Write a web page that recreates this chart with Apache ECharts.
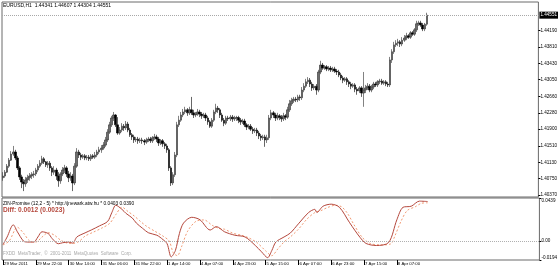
<!DOCTYPE html>
<html><head><meta charset="utf-8">
<script src="https://cdn.jsdelivr.net/npm/echarts@6/dist/echarts.min.js"></script>
<style>html,body{margin:0;padding:0;background:#fff}#c{width:560px;height:270px}</style>
</head><body><div id="c"></div>
<script>
const symbolName = 'EURUSD,H1';
const xTickLabels = ['29 Mar 2011','29 Mar 22:00','30 Mar 14:00','31 Mar 06:00','31 Mar 22:00','1 Apr 14:00','4 Apr 07:00','4 Apr 23:00','5 Apr 15:00','6 Apr 07:00','6 Apr 23:00','7 Apr 15:00','8 Apr 07:00'];
const priceTickLabels = ['1.40370','1.40750','1.41130','1.41510','1.41900','1.42280','1.42660','1.43050','1.43430','1.43810','1.44190'];
const zinTickLabels = ['-0.0194','0.00','0.0439'];
const zinName = 'ZIN-Promise (12,2 - 5) * http://jnewark.atw.hu *';
const diffText = 'Diff: 0.0012 (0.0023)';
const copyrightText = 'FXDD  MetaTrader,  \u00a9  2001-2011  MetaQuotes  Software  Corp.';

// [open, high, low, close] per H1 bar
const ohlc = [
[1.4077,1.4090,1.4070,1.4081],[1.4081,1.4095,1.4077,1.4090],[1.4090,1.4109,1.4088,1.4104],[1.4104,1.4123,1.4100,1.4118],
[1.4118,1.4139,1.4116,1.4132],[1.4132,1.4151,1.4128,1.4137],[1.4137,1.4142,1.4118,1.4123],[1.4123,1.4128,1.4095,1.4100],
[1.4100,1.4104,1.4072,1.4079],[1.4079,1.4084,1.4053,1.4067],[1.4067,1.4074,1.4046,1.4063],[1.4063,1.4079,1.4056,1.4072],
[1.4072,1.4084,1.4065,1.4077],[1.4077,1.4088,1.4070,1.4081],[1.4081,1.4090,1.4074,1.4084],[1.4084,1.4093,1.4077,1.4086],
[1.4086,1.4100,1.4081,1.4095],[1.4095,1.4109,1.4090,1.4104],[1.4104,1.4118,1.4100,1.4111],[1.4111,1.4128,1.4107,1.4121],
[1.4121,1.4125,1.4109,1.4114],[1.4114,1.4116,1.4102,1.4107],[1.4107,1.4116,1.4100,1.4111],[1.4111,1.4116,1.4093,1.4100],
[1.4100,1.4104,1.4081,1.4090],[1.4090,1.4104,1.4084,1.4095],[1.4095,1.4100,1.4072,1.4081],[1.4081,1.4090,1.4056,1.4070],
[1.4070,1.4090,1.4063,1.4086],[1.4086,1.4102,1.4081,1.4095],[1.4095,1.4107,1.4088,1.4100],[1.4100,1.4104,1.4079,1.4086],
[1.4086,1.4093,1.4067,1.4077],[1.4077,1.4090,1.4070,1.4081],[1.4081,1.4086,1.4046,1.4065],[1.4065,1.4111,1.4060,1.4104],
[1.4104,1.4146,1.4100,1.4137],[1.4137,1.4142,1.4123,1.4130],[1.4130,1.4135,1.4118,1.4125],[1.4125,1.4132,1.4121,1.4128],
[1.4128,1.4132,1.4118,1.4123],[1.4123,1.4130,1.4118,1.4125],[1.4125,1.4130,1.4116,1.4121],[1.4121,1.4132,1.4116,1.4128],
[1.4128,1.4132,1.4121,1.4125],[1.4125,1.4137,1.4121,1.4130],[1.4130,1.4142,1.4125,1.4137],[1.4137,1.4149,1.4132,1.4142],
[1.4142,1.4153,1.4135,1.4146],[1.4146,1.4160,1.4142,1.4153],[1.4153,1.4172,1.4149,1.4165],[1.4165,1.4190,1.4160,1.4183],
[1.4183,1.4207,1.4179,1.4200],[1.4200,1.4221,1.4195,1.4216],[1.4216,1.4230,1.4209,1.4223],[1.4223,1.4225,1.4195,1.4200],
[1.4200,1.4218,1.4177,1.4181],[1.4181,1.4195,1.4177,1.4188],[1.4188,1.4204,1.4183,1.4197],[1.4197,1.4202,1.4186,1.4193],
[1.4193,1.4209,1.4188,1.4202],[1.4202,1.4207,1.4183,1.4188],[1.4188,1.4193,1.4172,1.4177],[1.4177,1.4181,1.4165,1.4172],
[1.4172,1.4177,1.4158,1.4165],[1.4165,1.4172,1.4160,1.4167],[1.4167,1.4172,1.4156,1.4163],[1.4163,1.4170,1.4158,1.4165],
[1.4165,1.4170,1.4156,1.4163],[1.4163,1.4167,1.4153,1.4160],[1.4160,1.4170,1.4156,1.4165],[1.4165,1.4172,1.4160,1.4167],
[1.4167,1.4172,1.4158,1.4163],[1.4163,1.4174,1.4158,1.4170],[1.4170,1.4179,1.4165,1.4172],[1.4172,1.4177,1.4160,1.4167],
[1.4167,1.4172,1.4151,1.4158],[1.4158,1.4167,1.4153,1.4163],[1.4163,1.4167,1.4149,1.4156],[1.4156,1.4160,1.4144,1.4151],
[1.4151,1.4156,1.4135,1.4142],[1.4142,1.4146,1.4093,1.4100],[1.4100,1.4104,1.4058,1.4065],[1.4065,1.4090,1.4060,1.4084],
[1.4084,1.4137,1.4079,1.4130],[1.4130,1.4207,1.4125,1.4200],[1.4200,1.4221,1.4195,1.4211],[1.4211,1.4230,1.4207,1.4223],
[1.4223,1.4237,1.4218,1.4230],[1.4230,1.4242,1.4225,1.4235],[1.4235,1.4239,1.4221,1.4228],[1.4228,1.4242,1.4223,1.4235],
[1.4235,1.4265,1.4223,1.4228],[1.4228,1.4235,1.4216,1.4223],[1.4223,1.4230,1.4218,1.4225],[1.4225,1.4237,1.4221,1.4230],
[1.4230,1.4235,1.4218,1.4225],[1.4225,1.4230,1.4214,1.4221],[1.4221,1.4228,1.4216,1.4223],[1.4223,1.4228,1.4209,1.4216],
[1.4216,1.4221,1.4200,1.4207],[1.4207,1.4211,1.4193,1.4197],[1.4197,1.4216,1.4193,1.4211],[1.4211,1.4235,1.4207,1.4230],
[1.4230,1.4249,1.4225,1.4239],[1.4239,1.4244,1.4228,1.4235],[1.4235,1.4239,1.4216,1.4223],[1.4223,1.4228,1.4207,1.4211],
[1.4211,1.4216,1.4197,1.4204],[1.4204,1.4221,1.4200,1.4216],[1.4216,1.4221,1.4209,1.4214],[1.4214,1.4223,1.4209,1.4218],
[1.4218,1.4223,1.4207,1.4214],[1.4214,1.4221,1.4209,1.4216],[1.4216,1.4221,1.4209,1.4217],[1.4217,1.4221,1.4204,1.4211],
[1.4211,1.4216,1.4200,1.4207],[1.4207,1.4214,1.4202,1.4209],[1.4209,1.4214,1.4195,1.4200],[1.4200,1.4204,1.4188,1.4195],
[1.4195,1.4202,1.4190,1.4197],[1.4197,1.4202,1.4186,1.4190],[1.4190,1.4195,1.4179,1.4186],[1.4186,1.4193,1.4181,1.4188],
[1.4188,1.4193,1.4174,1.4181],[1.4181,1.4186,1.4167,1.4174],[1.4174,1.4179,1.4163,1.4170],[1.4170,1.4177,1.4165,1.4172],
[1.4172,1.4177,1.4149,1.4165],[1.4165,1.4177,1.4158,1.4170],[1.4170,1.4223,1.4165,1.4216],[1.4216,1.4235,1.4211,1.4228],
[1.4228,1.4232,1.4216,1.4223],[1.4223,1.4228,1.4209,1.4216],[1.4216,1.4228,1.4211,1.4221],[1.4221,1.4225,1.4211,1.4218],
[1.4218,1.4223,1.4207,1.4214],[1.4214,1.4228,1.4209,1.4221],[1.4221,1.4225,1.4211,1.4218],[1.4218,1.4242,1.4214,1.4235],
[1.4235,1.4258,1.4230,1.4249],[1.4249,1.4263,1.4244,1.4256],[1.4256,1.4265,1.4251,1.4260],[1.4260,1.4265,1.4253,1.4258],
[1.4258,1.4270,1.4253,1.4265],[1.4265,1.4270,1.4256,1.4263],[1.4263,1.4288,1.4258,1.4281],[1.4281,1.4297,1.4276,1.4290],
[1.4290,1.4307,1.4286,1.4300],[1.4300,1.4311,1.4295,1.4304],[1.4304,1.4309,1.4288,1.4295],[1.4295,1.4300,1.4279,1.4286],
[1.4286,1.4295,1.4281,1.4290],[1.4290,1.4295,1.4270,1.4281],[1.4281,1.4328,1.4276,1.4323],[1.4323,1.4349,1.4318,1.4339],
[1.4339,1.4344,1.4328,1.4332],[1.4332,1.4339,1.4328,1.4335],[1.4335,1.4339,1.4325,1.4330],[1.4330,1.4337,1.4325,1.4332],
[1.4332,1.4337,1.4323,1.4328],[1.4328,1.4335,1.4323,1.4330],[1.4330,1.4335,1.4321,1.4325],[1.4325,1.4330,1.4316,1.4323],
[1.4323,1.4328,1.4311,1.4316],[1.4316,1.4321,1.4304,1.4309],[1.4309,1.4314,1.4297,1.4304],[1.4304,1.4311,1.4300,1.4307],
[1.4307,1.4311,1.4293,1.4300],[1.4300,1.4304,1.4288,1.4295],[1.4295,1.4300,1.4283,1.4290],[1.4290,1.4297,1.4286,1.4293],
[1.4293,1.4297,1.4276,1.4283],[1.4283,1.4288,1.4270,1.4279],[1.4279,1.4290,1.4274,1.4286],[1.4286,1.4290,1.4265,1.4274],
[1.4274,1.4323,1.4242,1.4281],[1.4281,1.4293,1.4274,1.4286],[1.4286,1.4297,1.4281,1.4290],[1.4290,1.4295,1.4276,1.4281],
[1.4281,1.4293,1.4276,1.4288],[1.4288,1.4300,1.4283,1.4295],[1.4295,1.4300,1.4288,1.4293],[1.4293,1.4304,1.4288,1.4300],
[1.4300,1.4307,1.4295,1.4302],[1.4302,1.4307,1.4293,1.4297],[1.4297,1.4304,1.4293,1.4300],[1.4300,1.4304,1.4290,1.4295],
[1.4295,1.4300,1.4288,1.4293],[1.4293,1.4358,1.4288,1.4351],[1.4351,1.4376,1.4344,1.4370],[1.4370,1.4393,1.4365,1.4386],
[1.4386,1.4397,1.4381,1.4390],[1.4390,1.4400,1.4383,1.4393],[1.4393,1.4397,1.4381,1.4388],[1.4388,1.4404,1.4383,1.4397],
[1.4397,1.4409,1.4393,1.4402],[1.4402,1.4414,1.4397,1.4407],[1.4407,1.4411,1.4400,1.4404],[1.4404,1.4418,1.4400,1.4414],
[1.4414,1.4418,1.4407,1.4411],[1.4411,1.4425,1.4407,1.4421],[1.4421,1.4442,1.4416,1.4435],[1.4435,1.4442,1.4430,1.4437],
[1.4437,1.4442,1.4428,1.4432],[1.4432,1.4437,1.4418,1.4423],[1.4423,1.4437,1.4418,1.4434],[1.44341,1.44607,1.44304,1.44551]
];

// indicator: [bar index, value]
const zinMain = [[0,-0.0036],[2,0.0041],[5,0.0165],[7,0.0094],[10,-0.0001],[12,-0.0011],[15,-0.0011],[17,0.0041],[19,0.0094],[22,0.0077],[24,0.0024],[27,-0.0028],[29,-0.0018],[32,-0.0011],[34,-0.0022],[36,0.0041],[40,0.0083],[43,0.0112],[47,0.0154],[51,0.0200],[53,0.0288],[55,0.0365],[58,0.0323],[60,0.0281],[63,0.0235],[65,0.0183],[68,0.0130],[71,0.0083],[75,0.0059],[78,0.0014],[80,-0.0028],[82,-0.0162],[84,-0.0099],[86,0.0077],[88,0.0183],[92,0.0242],[96,0.0217],[101,0.0112],[104,0.0147],[108,0.0094],[113,0.0059],[118,0.0041],[123,-0.0046],[126,-0.0110],[129,-0.0170],[131,-0.0099],[133,-0.0011],[137,0.0041],[140,0.0080],[144,0.0175],[149,0.0291],[152,0.0323],[153,0.0291],[156,0.0355],[160,0.0376],[164,0.0344],[169,0.0186],[174,0.0038],[177,-0.0025],[182,-0.0046],[188,-0.0015],[192,0.0217],[195,0.0344],[199,0.0355],[203,0.0407],[207,0.0403]];
const zinSignal = [[0,-0.0040],[3,0.0000],[7,0.0140],[10,0.0080],[13,0.0000],[16,-0.0010],[19,0.0040],[22,0.0085],[25,0.0060],[28,0.0010],[31,-0.0020],[34,-0.0025],[37,-0.0005],[40,0.0050],[44,0.0090],[48,0.0130],[52,0.0180],[55,0.0270],[58,0.0345],[61,0.0300],[64,0.0255],[67,0.0200],[70,0.0150],[74,0.0100],[78,0.0050],[81,0.0000],[83,-0.0120],[85,-0.0150],[87,-0.0060],[90,0.0100],[94,0.0200],[98,0.0215],[102,0.0160],[105,0.0130],[108,0.0120],[112,0.0080],[116,0.0060],[120,0.0030],[124,-0.0020],[128,-0.0100],[131,-0.0150],[134,-0.0080],[137,-0.0010],[140,0.0040],[144,0.0120],[148,0.0220],[152,0.0290],[155,0.0310],[158,0.0340],[162,0.0365],[165,0.0350],[168,0.0280],[171,0.0170],[175,0.0040],[179,-0.0025],[184,-0.0040],[189,-0.0030],[191,0.0050],[194,0.0200],[197,0.0310],[201,0.0350],[204,0.0385],[207,0.0390]];

const FONT = '"Liberation Sans", Arial, sans-serif';
const slotCount = 262, labelEvery = 16;
const categories = Array.from({length: slotCount}, (_, i) => (i % labelEvery === 0 && xTickLabels[i / labelEvery]) || '');
const candleData = ohlc.map(d => [d[0], d[3], d[2], d[1]]);
const last = ohlc[ohlc.length - 1];
const header = symbolName + '  ' + last.map(v => v.toFixed(5)).join(' ');
const zinHeader = zinName + ' ' + zinMain[zinMain.length - 1][1].toFixed(4) + ' ' + zinSignal[zinSignal.length - 1][1].toFixed(4);
const priceTicks = priceTickLabels.map(Number);
const zinTicks = zinTickLabels.map(Number);
const zMin = zinTicks[0], zMax = zinTicks[zinTicks.length - 1];
const showIdx = (i, v) => v !== '';

const chart = echarts.init(document.getElementById('c'), null, {renderer: 'canvas'});
chart.setOption({
  animation: false,
  backgroundColor: '#ffffff',
  textStyle: {fontFamily: FONT},
  title: [
    {text: header, left: 3, top: 3, padding: 0, textStyle: {fontSize: 5, fontWeight: 'normal', color: '#000', fontFamily: FONT}},
    {text: zinHeader, left: 3, top: 201, padding: 0, textStyle: {fontSize: 4.8, fontWeight: 'normal', color: '#000', fontFamily: FONT}},
    {text: diffText, left: 3, top: 206.7, padding: 0, textStyle: {fontSize: 6.6, fontWeight: 'bold', color: '#b5473c', fontFamily: FONT}},
    {text: copyrightText, left: 3, top: 251.3, padding: 0, textStyle: {fontSize: 4.5, fontWeight: 'normal', color: '#a8a8a8', fontFamily: FONT}}
  ],
  grid: [
    {left: 2, right: 19, top: 2, height: 195, show: true, borderColor: '#6a6a6a', borderWidth: 1},
    {left: 2, right: 19, top: 198, height: 62, show: true, borderColor: '#6a6a6a', borderWidth: 1}
  ],
  xAxis: [
    {gridIndex: 0, type: 'category', data: categories, boundaryGap: true, show: false},
    {gridIndex: 1, type: 'category', data: categories, boundaryGap: true, position: 'bottom',
      axisLine: {show: false, onZero: false},
      axisTick: {show: true, alignWithLabel: true, interval: showIdx, length: 5, lineStyle: {color: '#000', width: 1}},
      axisLabel: {interval: showIdx, align: 'left', fontSize: 4.3, margin: 2, color: '#000', padding: [0, 0, 0, 1], fontFamily: FONT},
      splitLine: {show: false}}
  ],
  yAxis: [
    {gridIndex: 0, type: 'value', position: 'right', min: 1.40323, max: 1.44857, scale: true,
      splitLine: {show: false}, axisLine: {show: false},
      axisTick: {show: true, length: 2, customValues: priceTicks, lineStyle: {color: '#000'}},
      axisLabel: {customValues: priceTicks, formatter: v => priceTickLabels[priceTicks.indexOf(v)] || v.toFixed(5), fontSize: 4.6, margin: 2, color: '#000', fontFamily: FONT}},
    {gridIndex: 1, type: 'value', position: 'right', min: zMin, max: zMax,
      splitLine: {show: false}, axisLine: {show: false},
      axisTick: {show: true, length: 2, customValues: zinTicks, lineStyle: {color: '#000'}},
      axisLabel: {customValues: zinTicks, margin: 2, color: '#000', fontSize: 4.6, fontFamily: FONT,
        formatter: v => { const s = zinTickLabels[zinTicks.indexOf(v)]; return v === zMax ? '{t|' + s + '}' : v === zMin ? '{b|' + s + '}' : s; },
        rich: {t: {fontSize: 4.6, color: '#000', padding: [5, 0, 0, 0], fontFamily: FONT}, b: {fontSize: 4.6, color: '#000', padding: [0, 0, 5, 0], fontFamily: FONT}}}}
  ],
  series: [
    {type: 'candlestick', xAxisIndex: 0, yAxisIndex: 0, data: candleData, barWidth: 2, clip: false,
      itemStyle: {color: '#6e6e6e', color0: '#000000', borderColor: '#2e2e2e', borderColor0: '#000000', borderWidth: 0.6},
      markLine: {symbol: 'none', silent: true, animation: false, precision: 5,
        lineStyle: {type: 'dotted', color: '#a8a8a8', width: 1},
        label: {show: true, position: 'end', distance: 1, formatter: p => Number(p.value).toFixed(5), backgroundColor: '#000', color: '#fff', fontSize: 4.6, padding: [1, 1, 1, 1], fontFamily: FONT},
        data: [{yAxis: last[3]}]}},
    {type: 'line', xAxisIndex: 1, yAxisIndex: 1, data: zinSignal, showSymbol: false, smooth: 0.3,
      lineStyle: {color: '#f29a73', width: 1, type: [2, 2]}, z: 2},
    {type: 'line', xAxisIndex: 1, yAxisIndex: 1, data: zinMain, showSymbol: false, smooth: 0.3,
      lineStyle: {color: '#b5473c', width: 1}, z: 3,
      markLine: {symbol: 'none', silent: true, animation: false, label: {show: false},
        lineStyle: {type: 'dotted', color: '#b0b0b0', width: 1}, data: [{yAxis: 0}]}}
  ]
});
</script></body></html>
